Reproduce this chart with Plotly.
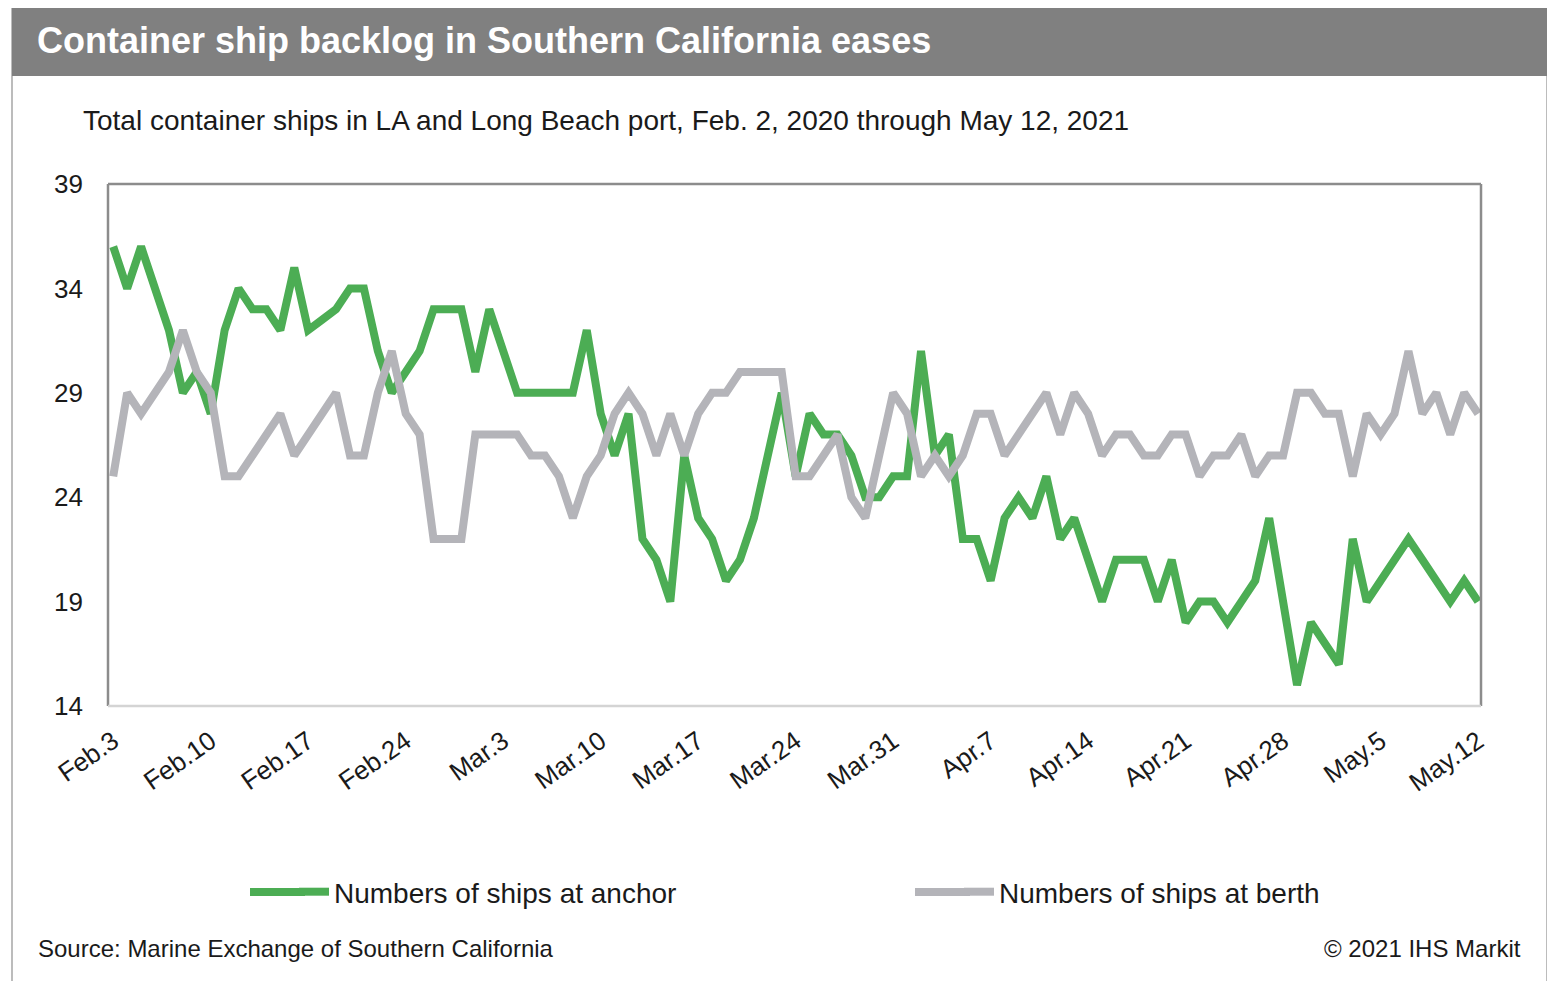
import plotly.graph_objects as go
import pandas as pd

# ---------------- data ----------------
dates = pd.date_range("2021-02-03", "2021-05-12", freq="D")

anchor = [36, 34, 36, 34, 32, 29, 30, 28, 32, 34,
          33, 33, 32, 35, 32, 32.5, 33, 34, 34, 31,
          29, 30, 31, 33, 33, 33, 30, 33, 31, 29,
          29, 29, 29, 29, 32, 28, 26, 28, 22, 21,
          19, 26, 23, 22, 20, 21, 23, 26, 29, 25,
          28, 27, 27, 26, 24, 24, 25, 25, 31, 26,
          27, 22, 22, 20, 23, 24, 23, 25, 22, 23,
          21, 19, 21, 21, 21, 19, 21, 18, 19, 19,
          18, 19, 20, 23, 19, 15, 18, 17, 16, 22,
          19, 20, 21, 22, 21, 20, 19, 20, 19]

berth = [25, 29, 28, 29, 30, 32, 30, 29, 25, 25,
         26, 27, 28, 26, 27, 28, 29, 26, 26, 29,
         31, 28, 27, 22, 22, 22, 27, 27, 27, 27,
         26, 26, 25, 23, 25, 26, 28, 29, 28, 26,
         28, 26, 28, 29, 29, 30, 30, 30, 30, 25,
         25, 26, 27, 24, 23, 26, 29, 28, 25, 26,
         25, 26, 28, 28, 26, 27, 28, 29, 27, 29,
         28, 26, 27, 27, 26, 26, 27, 27, 25, 26,
         26, 27, 25, 26, 26, 29, 29, 28, 28, 25,
         28, 27, 28, 31, 28, 29, 27, 29, 28]

tick_dates = pd.date_range("2021-02-03", "2021-05-12", freq="7D")
tick_labels = ["Feb.3", "Feb.10", "Feb.17", "Feb.24", "Mar.3", "Mar.10",
               "Mar.17", "Mar.24", "Mar.31", "Apr.7", "Apr.14", "Apr.21",
               "Apr.28", "May.5", "May.12"]
y_ticks = [14, 19, 24, 29, 34, 39]

series_names = ["Numbers of ships at anchor", "Numbers of ships at berth"]
title_text = "Container ship backlog in Southern California eases"
subtitle_text = "Total container ships in LA and Long Beach port, Feb. 2, 2020 through May 12, 2021"
source_text = "Source: Marine Exchange of Southern California"
copyright_text = "© 2021 IHS Markit"

# ---------------- layout geometry ----------------
W, H = 1555, 981
OFF = 8                              # page body offset
L, R, T, B = 108, 1481, 184, 706     # plot area in page pixels


def px(xp):
    return (xp - L) / (R - L)


def py(yp):
    return (B - yp) / (B - T)


GREEN = "#4CAD54"
GRAY = "#B4B4B9"
FONT = "Liberation Sans, Arial, sans-serif"
TXT = "#1a1a1a"
LW = 8

fig = go.Figure()
fig.add_trace(go.Scatter(x=dates, y=anchor, mode="lines", name=series_names[0],
                         line=dict(color=GREEN, width=LW), legend="legend"))
fig.add_trace(go.Scatter(x=dates, y=berth, mode="lines", name=series_names[1],
                         line=dict(color=GRAY, width=LW), legend="legend2"))

x0 = dates[0] - pd.Timedelta(hours=9)
x1 = dates[-1] + pd.Timedelta(hours=5)

shapes = [
    # outer frame
    dict(type="rect", xref="paper", yref="paper", x0=px(12), x1=px(1547),
         y0=py(1000), y1=py(8), line=dict(color="#A6A6A6", width=1.5),
         fillcolor="rgba(0,0,0,0)", layer="below"),
    # title band
    dict(type="rect", xref="paper", yref="paper", x0=px(12), x1=px(1547),
         y0=py(76), y1=py(8), line=dict(width=0), fillcolor="#808080",
         layer="below"),
    # plot border: top, left, right dark; bottom light
    dict(type="line", xref="paper", yref="paper", x0=0, x1=1, y0=1, y1=1,
         line=dict(color="#8C8C8C", width=2.5)),
    dict(type="line", xref="paper", yref="paper", x0=0, x1=0, y0=0, y1=1,
         line=dict(color="#8C8C8C", width=2.5)),
    dict(type="line", xref="paper", yref="paper", x0=1, x1=1, y0=0, y1=1,
         line=dict(color="#8C8C8C", width=2.5)),
    dict(type="line", xref="paper", yref="paper", x0=0, x1=1, y0=0, y1=0,
         line=dict(color="#D4D4D4", width=2.5)),
    # longer legend keys (extend the legend's own symbols to the left)
    dict(type="line", xref="paper", yref="paper", x0=px(250), x1=px(305),
         y0=py(892), y1=py(892), line=dict(color=GREEN, width=LW)),
    dict(type="line", xref="paper", yref="paper", x0=px(915), x1=px(970),
         y0=py(892), y1=py(892), line=dict(color=GRAY, width=LW)),
]

annotations = [
    dict(text=f"<b>{title_text}</b>", xref="paper", yref="paper",
         x=px(35), y=py(41), xanchor="left", yanchor="middle", showarrow=False,
         font=dict(family=FONT, size=36, color="white")),
    dict(text=subtitle_text, xref="paper", yref="paper",
         x=px(81), y=py(120), xanchor="left", yanchor="middle", showarrow=False,
         font=dict(family=FONT, size=28, color=TXT)),
    dict(text=source_text, xref="paper", yref="paper",
         x=px(36), y=py(948), xanchor="left", yanchor="middle", showarrow=False,
         font=dict(family=FONT, size=24, color=TXT)),
    dict(text=copyright_text, xref="paper", yref="paper",
         x=px(1523), y=py(948), xanchor="right", yanchor="middle", showarrow=False,
         font=dict(family=FONT, size=24, color=TXT)),
]

legend_common = dict(orientation="h", xanchor="left", yanchor="middle",
                     font=dict(family=FONT, size=28, color=TXT),
                     bgcolor="rgba(0,0,0,0)", itemwidth=30)

fig.update_layout(
    width=W, height=H,
    margin=dict(l=L - OFF, r=W - (R - OFF), t=T - OFF, b=H - (B - OFF), pad=0),
    paper_bgcolor="white", plot_bgcolor="white",
    font=dict(family=FONT, size=26, color=TXT),
    showlegend=True,
    legend=dict(x=px(294), y=py(892), **legend_common),
    legend2=dict(x=px(959), y=py(892), **legend_common),
    shapes=shapes,
    annotations=annotations,
    xaxis=dict(range=[x0, x1], tickvals=list(tick_dates), ticktext=tick_labels,
               tickangle=-35, showgrid=False, zeroline=False, showline=False,
               ticks="", ticklabelstandoff=14,
               tickfont=dict(family=FONT, size=26, color=TXT)),
    yaxis=dict(range=[14, 39], tickvals=y_ticks, showgrid=False, zeroline=False,
               showline=False, ticks="", ticklabelstandoff=24,
               tickfont=dict(family=FONT, size=26, color=TXT)),
)

fig.write_html("out.html")
